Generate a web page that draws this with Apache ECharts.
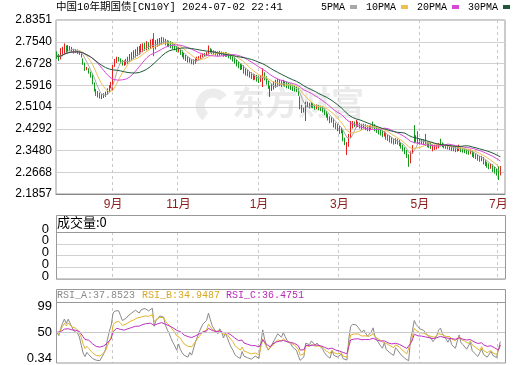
<!DOCTYPE html>
<html><head><meta charset="utf-8">
<script src="https://cdn.jsdelivr.net/npm/echarts@6/dist/echarts.min.js"></script>
<style>html,body{margin:0;padding:0;background:#fff}#c{width:520px;height:365px}</style>
</head><body><div id="c"></div>
<script>
// ---- data (daily candles, index 0 .. 237) ----
const opens = [
2.712,2.700,2.690,2.705,2.712,2.728,2.718,2.732,2.730,2.724,
2.716,2.722,2.716,2.712,2.690,2.672,2.652,2.650,2.638,2.630,
2.598,2.572,2.562,2.556,2.546,2.550,2.554,2.562,2.570,2.588,
2.590,2.668,2.680,2.692,2.688,2.680,2.670,2.674,2.678,2.684,
2.690,2.696,2.700,2.708,2.720,2.716,2.726,2.736,2.732,2.742,
2.736,2.745,2.765,2.738,2.742,2.748,2.752,2.762,2.758,2.754,
2.746,2.748,2.740,2.736,2.732,2.720,2.724,2.718,2.708,2.698,
2.694,2.682,2.686,2.680,2.676,2.684,2.690,2.694,2.702,2.708,
2.704,2.710,2.724,2.720,2.716,2.712,2.710,2.706,2.712,2.710,
2.704,2.708,2.706,2.702,2.696,2.692,2.682,2.674,2.664,2.656,
2.662,2.638,2.642,2.636,2.630,2.626,2.618,2.622,2.616,2.608,
2.610,2.632,2.620,2.602,2.568,2.576,2.584,2.590,2.596,2.602,
2.600,2.594,2.600,2.596,2.592,2.590,2.586,2.582,2.578,2.574,
2.545,2.512,2.494,2.480,2.524,2.520,2.514,2.520,2.516,2.508,
2.512,2.508,2.506,2.500,2.490,2.482,2.472,2.458,2.464,2.446,
2.440,2.434,2.422,2.420,2.390,2.350,2.368,2.400,2.438,2.452,
2.440,2.452,2.446,2.442,2.434,2.442,2.436,2.428,2.430,2.450,
2.442,2.432,2.426,2.422,2.418,2.408,2.412,2.402,2.396,2.392,
2.386,2.378,2.386,2.382,2.376,2.366,2.356,2.346,2.330,2.305,
2.340,2.430,2.396,2.410,2.386,2.378,2.384,2.395,2.376,2.372,
2.370,2.352,2.356,2.360,2.362,2.385,2.374,2.370,2.367,2.364,
2.356,2.362,2.358,2.356,2.350,2.352,2.360,2.354,2.352,2.349,
2.347,2.340,2.344,2.337,2.334,2.330,2.323,2.316,2.320,2.308,
2.303,2.297,2.288,2.292,2.282,2.278,2.275,2.262];
const closes = [
2.700,2.695,2.705,2.715,2.725,2.720,2.730,2.728,2.722,2.718,
2.720,2.716,2.712,2.700,2.675,2.650,2.655,2.640,2.625,2.600,
2.575,2.560,2.555,2.550,2.548,2.555,2.560,2.572,2.585,2.598,
2.655,2.675,2.690,2.688,2.680,2.672,2.675,2.680,2.688,2.695,
2.700,2.705,2.712,2.718,2.715,2.728,2.732,2.735,2.740,2.738,
2.745,2.748,2.735,2.745,2.750,2.755,2.760,2.758,2.752,2.748,
2.745,2.740,2.735,2.730,2.722,2.726,2.715,2.705,2.695,2.690,
2.685,2.688,2.678,2.675,2.685,2.690,2.695,2.700,2.705,2.705,
2.710,2.725,2.720,2.715,2.712,2.710,2.708,2.712,2.710,2.705,
2.708,2.705,2.700,2.695,2.690,2.680,2.672,2.665,2.660,2.664,
2.645,2.640,2.635,2.630,2.625,2.620,2.622,2.615,2.610,2.620,
2.635,2.620,2.600,2.585,2.575,2.585,2.590,2.595,2.600,2.598,
2.595,2.600,2.595,2.590,2.588,2.585,2.580,2.578,2.575,2.560,
2.510,2.495,2.500,2.520,2.520,2.515,2.520,2.515,2.510,2.512,
2.508,2.505,2.500,2.490,2.480,2.470,2.460,2.466,2.445,2.440,
2.432,2.425,2.428,2.390,2.375,2.365,2.400,2.440,2.450,2.445,
2.450,2.445,2.440,2.435,2.440,2.435,2.430,2.432,2.435,2.440,
2.430,2.425,2.420,2.415,2.410,2.414,2.400,2.395,2.390,2.385,
2.380,2.385,2.380,2.375,2.365,2.355,2.345,2.330,2.310,2.340,
2.360,2.400,2.390,2.385,2.380,2.382,2.378,2.375,2.370,2.368,
2.365,2.360,2.362,2.365,2.370,2.372,2.368,2.365,2.363,2.360,
2.362,2.356,2.355,2.352,2.355,2.358,2.352,2.350,2.348,2.345,
2.343,2.346,2.336,2.332,2.328,2.322,2.318,2.322,2.308,2.302,
2.296,2.290,2.294,2.280,2.276,2.268,2.255,2.272];
const lows = [
2.690,2.682,2.688,2.700,2.706,2.712,2.714,2.718,2.715,2.710,
2.712,2.708,2.705,2.695,2.668,2.645,2.648,2.635,2.620,2.595,
2.568,2.552,2.546,2.542,2.540,2.544,2.548,2.556,2.565,2.580,
2.570,2.660,2.675,2.680,2.672,2.665,2.664,2.668,2.672,2.680,
2.684,2.690,2.695,2.700,2.705,2.710,2.715,2.720,2.722,2.725,
2.728,2.732,2.700,2.725,2.735,2.740,2.742,2.745,2.740,2.736,
2.734,2.730,2.726,2.722,2.716,2.714,2.705,2.696,2.688,2.682,
2.676,2.676,2.670,2.668,2.672,2.680,2.686,2.690,2.696,2.698,
2.700,2.706,2.712,2.708,2.704,2.702,2.700,2.702,2.702,2.698,
2.698,2.698,2.692,2.688,2.680,2.672,2.662,2.655,2.648,2.650,
2.635,2.628,2.625,2.620,2.615,2.610,2.612,2.605,2.600,2.604,
2.585,2.610,2.594,2.578,2.548,2.570,2.575,2.582,2.586,2.588,
2.585,2.588,2.586,2.580,2.578,2.574,2.570,2.568,2.566,2.552,
2.502,2.488,2.490,2.458,2.510,2.505,2.508,2.506,2.500,2.502,
2.498,2.495,2.490,2.480,2.470,2.460,2.450,2.452,2.434,2.428,
2.420,2.410,2.412,2.382,2.368,2.331,2.362,2.395,2.430,2.436,
2.434,2.436,2.430,2.425,2.428,2.424,2.420,2.420,2.424,2.430,
2.420,2.414,2.408,2.404,2.398,2.400,2.388,2.384,2.378,2.374,
2.370,2.372,2.370,2.364,2.355,2.345,2.334,2.320,2.287,2.300,
2.335,2.375,2.378,2.375,2.370,2.372,2.368,2.366,2.360,2.358,
2.354,2.345,2.350,2.352,2.356,2.364,2.360,2.356,2.354,2.352,
2.350,2.346,2.345,2.342,2.344,2.346,2.342,2.340,2.338,2.334,
2.332,2.334,2.324,2.320,2.316,2.310,2.306,2.308,2.296,2.290,
2.284,2.278,2.280,2.268,2.262,2.254,2.238,2.255];
const highs = [
2.718,2.708,2.730,2.735,2.748,2.740,2.742,2.738,2.735,2.728,
2.726,2.725,2.720,2.716,2.692,2.676,2.660,2.655,2.642,2.636,
2.602,2.578,2.570,2.564,2.558,2.562,2.568,2.580,2.592,2.604,
2.667,2.690,2.698,2.697,2.692,2.686,2.684,2.690,2.698,2.708,
2.715,2.722,2.726,2.735,2.738,2.745,2.748,2.750,2.756,2.752,
2.762,2.765,2.786,2.760,2.765,2.768,2.772,2.770,2.765,2.760,
2.758,2.756,2.752,2.745,2.738,2.735,2.728,2.722,2.712,2.705,
2.700,2.694,2.690,2.688,2.692,2.698,2.700,2.706,2.710,2.712,
2.716,2.740,2.730,2.726,2.722,2.720,2.718,2.720,2.718,2.716,
2.716,2.714,2.712,2.708,2.702,2.696,2.688,2.680,2.675,2.672,
2.666,2.655,2.650,2.645,2.640,2.635,2.632,2.630,2.625,2.630,
2.655,2.640,2.625,2.608,2.590,2.598,2.605,2.612,2.615,2.612,
2.610,2.612,2.608,2.605,2.600,2.598,2.594,2.590,2.588,2.580,
2.550,2.518,2.508,2.530,2.530,2.526,2.528,2.525,2.522,2.520,
2.518,2.515,2.512,2.505,2.495,2.486,2.476,2.472,2.468,2.452,
2.446,2.440,2.434,2.424,2.396,2.380,2.410,2.458,2.458,2.456,
2.462,2.456,2.452,2.448,2.448,2.446,2.442,2.440,2.442,2.456,
2.446,2.438,2.432,2.428,2.424,2.420,2.416,2.408,2.404,2.398,
2.392,2.394,2.392,2.388,2.380,2.370,2.360,2.350,2.334,2.345,
2.368,2.443,2.405,2.420,2.392,2.390,2.390,2.410,2.382,2.378,
2.376,2.370,2.370,2.372,2.376,2.392,2.378,2.374,2.372,2.370,
2.368,2.366,2.364,2.362,2.362,2.370,2.362,2.358,2.356,2.354,
2.352,2.352,2.348,2.342,2.338,2.334,2.328,2.328,2.324,2.312,
2.306,2.300,2.300,2.296,2.288,2.282,2.290,2.290];

const slotCount = 240;                       // slots on the time axis
const monthTicks = {30:'9月', 65:'11月', 108:'1月', 151:'3月', 194:'5月', 236:'7月'};
const priceTickLabels = ['2.1857','2.2668','2.3480','2.4292','2.5104','2.5916','2.6728','2.7540','2.8351'];
const volTickValues = [0, 1, 2, 3, 4];
const volTickLabels = ['0','0','0','0','0'];
const rsiTickValues = [0.34, 50, 99];
const rsiTitleValues = ['37.8523','34.9487','36.4751'];
const titleText = '中国10年期国债[CN10Y] 2024-07-02 22:41';
const maNames = ['5PMA','10PMA','20PMA','30PMA'];
const maPeriods = [5,10,20,30];
const rsiPeriods = [6,12,24];

// ---- derived indicators ----
const categories = Array.from({length: slotCount}, (_, i) => String(i));
const candles = closes.map((c, i) => [opens[i], c, lows[i], highs[i]]);
function movingAvg(n) {
  return closes.map((_, i) => {
    const s = Math.max(0, i - n + 1); let sum = 0;
    for (let k = s; k <= i; k++) sum += closes[k];
    return +(sum / (i - s + 1)).toFixed(4);
  });
}
function rsi(n) {
  let a0 = 0;
  for (let k = 1; k <= n; k++) a0 += Math.abs(closes[k] - closes[k - 1]);
  a0 /= n;
  let up = a0 * 0.5, all = a0;
  return closes.map((c, i) => {
    if (i > 0) {
      const d = c - closes[i - 1];
      up = (Math.max(d, 0) + (n - 1) * up) / n;
      all = (Math.abs(d) + (n - 1) * all) / n;
    }
    return all === 0 ? 50 : +(up / all * 100).toFixed(2);
  });
}

const pMin = +priceTickLabels[0], pMax = +priceTickLabels[priceTickLabels.length - 1];
const pInt = (pMax - pMin) / (priceTickLabels.length - 1);
const mono = "'Liberation Mono','Noto Sans CJK SC',monospace";
const sans = "'Liberation Sans','Noto Sans CJK SC',sans-serif";
const isMonth = (i) => monthTicks[i] !== undefined;
const L = 56, W = 449;

function xAxisFor(g) {
  return {
    type: 'category', gridIndex: g, data: categories, boundaryGap: true,
    axisLine: {show: g === 0, lineStyle: {color: '#888'}},
    axisTick: {show: false},
    axisLabel: {show: g === 0, interval: isMonth, formatter: (v, i) => monthTicks[+v] || '',
      color: '#8b1a1a', fontSize: 12, margin: 5, fontFamily: sans},
    splitLine: {show: true, interval: isMonth, lineStyle: {color: '#c8c8c8', type: [3, 3], width: 1}}
  };
}
// volume panel: labels split over two overlaid axes so that none is dropped as "overlapping"
function volAxis(values, withGrid) {
  return {type: 'value', gridIndex: 1, min: volTickValues[0], max: volTickValues[volTickValues.length - 1],
    interval: 1, position: 'left', offset: 0,
    axisLine: {show: false}, axisTick: {show: false},
    axisLabel: {customValues: values, showMinLabel: true, showMaxLabel: true,
      formatter: (v) => '{a|' + volTickLabels[volTickValues.indexOf(Math.round(v))] + '}',
      color: '#000', margin: 7, rich: {a: {fontSize: 13, fontFamily: sans, padding: [0, 0, 6, 0]}}},
    splitLine: {show: withGrid, lineStyle: {color: '#d0d0d0', width: 1}}};
}

const maColors = ['#a8a8a8', '#eec050', '#d848d8', '#1e5a3a'];
const rsiColors = ['#8a8a8a', '#e2b42c', '#c030c0'];

const series = [{
  type: 'candlestick', xAxisIndex: 0, yAxisIndex: 0, data: candles, barWidth: 1,
  itemStyle: {color: '#e62020', color0: '#149a1e', borderColor: '#e62020', borderColor0: '#149a1e', borderWidth: 1}
}];
maPeriods.forEach((n, k) => series.push({
  type: 'line', name: maNames[k], xAxisIndex: 0, yAxisIndex: 0, data: movingAvg(n),
  symbol: 'none', color: maColors[k], lineStyle: {width: 1, color: maColors[k]}, z: 3
}));
rsiPeriods.forEach((n, k) => series.push({
  type: 'line', name: 'RSI' + k, xAxisIndex: 2, yAxisIndex: 2, data: rsi(n),
  symbol: 'none', color: rsiColors[k], lineStyle: {width: 1, color: rsiColors[k]},
  markLine: k === 0 ? {silent: true, symbol: 'none', label: {show: false},
    lineStyle: {color: '#c8c8c8', type: 'solid', width: 1}, data: [{yAxis: 50}]} : undefined
}));

const chart = echarts.init(document.getElementById('c'), null, {renderer: 'canvas'});
chart.setOption({
  animation: false,
  backgroundColor: '#fff',
  title: {text: titleText, left: 56, top: 2, padding: 0,
    textStyle: {fontSize: 10.5, fontWeight: 'normal', fontFamily: mono, color: '#000'}},
  legend: {data: maNames, left: 321, top: 2, padding: 0, align: 'right', icon: 'rect',
    itemWidth: 7, itemHeight: 4, itemGap: 9, selectedMode: false,
    textStyle: {fontSize: 10, fontFamily: mono, color: '#000'}},
  grid: [
    {left: L, top: 20, width: W, height: 174, show: true, borderColor: '#999', borderWidth: 1},
    {left: L, top: 232, width: W, height: 47},
    {left: L, top: 302, width: W, height: 61}
  ],
  xAxis: [xAxisFor(0), xAxisFor(1), xAxisFor(2)],
  yAxis: [
    {type: 'value', gridIndex: 0, min: pMin, max: pMax, interval: pInt,
      axisLine: {show: false}, axisTick: {show: false},
      axisLabel: {formatter: (v) => priceTickLabels[Math.round((v - pMin) / pInt)], color: '#000',
        fontSize: 12, margin: 4, fontFamily: sans},
      splitLine: {lineStyle: {color: '#d0d0d0', width: 1}}},
    volAxis(volTickValues.filter((v, i) => i % 2 === 0), true),
    {type: 'value', gridIndex: 2, min: rsiTickValues[0], max: rsiTickValues[2],
      axisLine: {show: false}, axisTick: {show: false},
      axisLabel: {customValues: rsiTickValues, color: '#000', fontSize: 12, margin: 4, fontFamily: sans,
        formatter: (v) => v >= 99 ? '{t|99}' : (v < 1 ? '{b|0.34}' : '{m|50}'),
        rich: {t: {fontSize: 13, padding: [8, 0, 0, 0], fontFamily: sans},
               m: {fontSize: 13, fontFamily: sans},
               b: {fontSize: 13, padding: [0, 0, 10, 0], fontFamily: sans}}},
      splitLine: {show: false}},
    volAxis(volTickValues.filter((v, i) => i % 2 === 1), false)
  ],
  graphic: [
    {type: 'arc', z: 0, silent: true, shape: {cx: 213, cy: 106, r: 13, startAngle: 2.2, endAngle: 5.6},
      style: {stroke: '#ececec', lineWidth: 9, fill: 'none'}},
    {type: 'text', left: 232, top: 86, z: 0, silent: true,
      style: {text: '东方财富', font: 'bold 33px "Noto Sans CJK SC"', fill: '#ebebeb'}},
    {type: 'rect', z: 10, silent: true, shape: {x: L + 0.5, y: 215.5, width: W, height: 63.5},
      style: {fill: 'none', stroke: '#999', lineWidth: 1}},
    {type: 'line', z: 10, silent: true, shape: {x1: L, y1: 232.5, x2: L + W, y2: 232.5},
      style: {stroke: '#999', lineWidth: 1}},
    {type: 'text', left: 57, top: 216, silent: true,
      style: {text: '成交量:0', font: '13px "Noto Sans CJK SC"', fill: '#000'}},
    {type: 'rect', z: 10, silent: true, shape: {x: L + 0.5, y: 289.5, width: W, height: 73.5},
      style: {fill: 'none', stroke: '#999', lineWidth: 1}},
    {type: 'line', z: 10, silent: true, shape: {x1: L, y1: 302.5, x2: L + W, y2: 302.5},
      style: {stroke: '#999', lineWidth: 1}},
    {type: 'text', left: 57, top: 290, silent: true,
      style: {text: 'RSI_A:' + rsiTitleValues[0], font: '10px ' + mono, fill: '#8a8a8a'}},
    {type: 'text', left: 142, top: 290, silent: true,
      style: {text: 'RSI_B:' + rsiTitleValues[1], font: '10px ' + mono, fill: '#d8a820'}},
    {type: 'text', left: 226, top: 290, silent: true,
      style: {text: 'RSI_C:' + rsiTitleValues[2], font: '10px ' + mono, fill: '#b828b8'}}
  ],
  series: series
});
</script></body></html>
